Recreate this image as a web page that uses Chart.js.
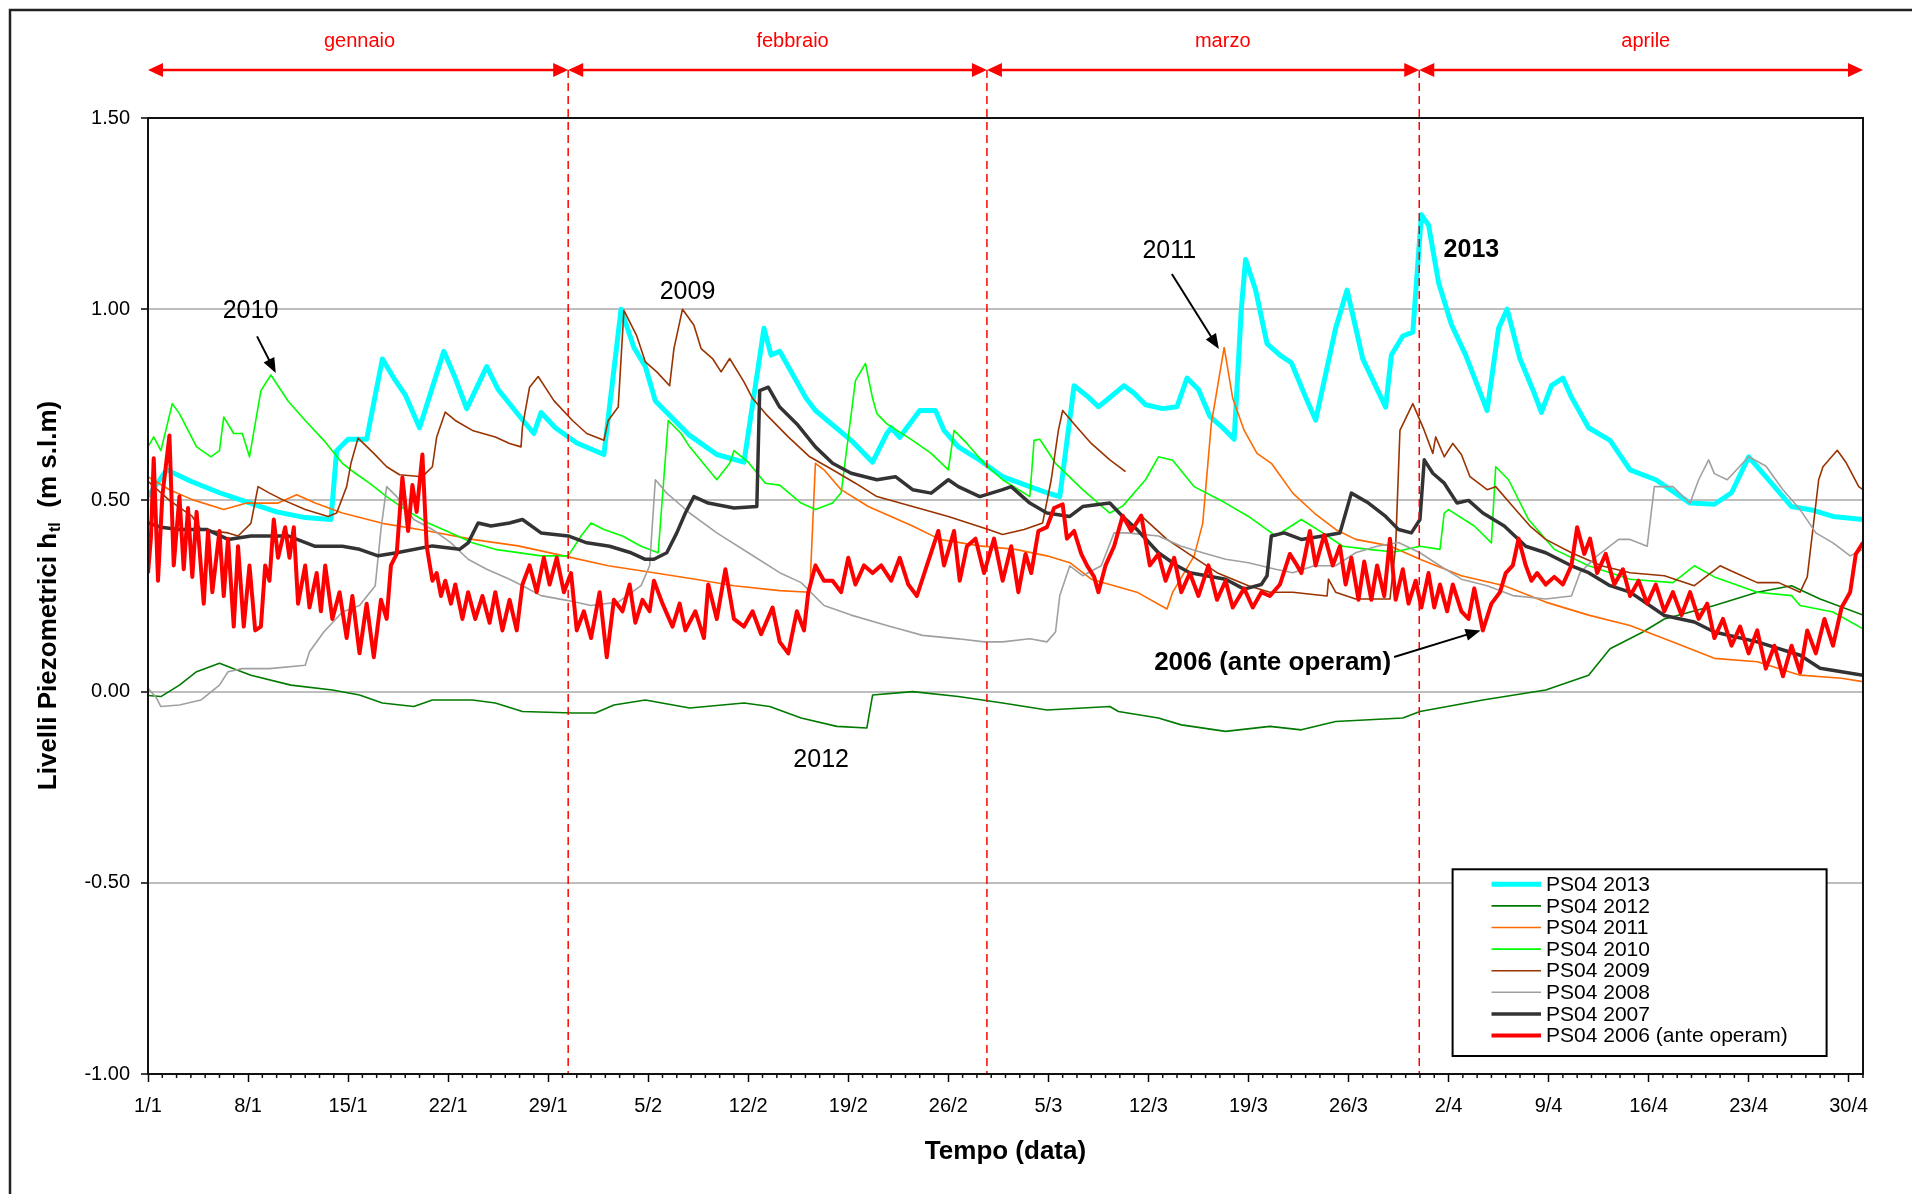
<!DOCTYPE html>
<html>
<head>
<meta charset="utf-8">
<title>PS04 livelli piezometrici</title>
<script src="https://cdn.jsdelivr.net/npm/chart.js@4.4.1/dist/chart.umd.min.js"></script>
<style>
  html, body { margin: 0; padding: 0; background: #fff; }
  canvas { display: block; }
</style>
</head>
<body>
<canvas id="chart" width="1912" height="1194"></canvas>
<script>
// x = days since 1 January, y = level in m s.l.m.

var tickDays = [0, 7, 14, 21, 28, 35, 42, 49, 56, 63, 70, 77, 84, 91, 98, 105, 112, 119];
var tickLabels = ['1/1', '8/1', '15/1', '22/1', '29/1', '5/2', '12/2', '19/2', '26/2',
                  '5/3', '12/3', '19/3', '26/3', '2/4', '9/4', '16/4', '23/4', '30/4'];

var monthNames = ['gennaio', 'febbraio', 'marzo', 'aprile'];
var monthBounds = [0, 29.4, 58.7, 88.95, 120];
var monthLabelDays = [14.8, 45.1, 75.2, 104.8];

var seriesNames = ['PS04 2013', 'PS04 2012', 'PS04 2011', 'PS04 2010',
                   'PS04 2009', 'PS04 2008', 'PS04 2007', 'PS04 2006 (ante operam)'];

// PS04 2013
var days13 = [0,1.3,3,5,7,9,11,12.8,13.2,14,15.3,16.4,17.2,18,19,20.7,21.5,22.3,23.7,24.5,26,27,27.5,28.5,30,31.9,33.1,34,34.8,35.5,36.3,37.9,39.8,41.7,43.1,43.6,44.2,44.8,46,46.7,49.2,50.7,51.7,52,52.6,54,55.1,55.7,56.7,58.2,59.8,61.7,62.9,63.8,64.8,65.8,66.5,67,68.3,69,69.8,71,72,72.7,73.5,74.3,75.2,76,76.5,76.8,77.5,78.3,79.2,80,81,81.7,83.1,83.9,85,86.6,87,87.8,88.5,89.1,89.6,90.3,91.2,92.2,93.7,94.5,95.1,96,97,97.5,98.2,99,99.6,100.8,102.3,103.7,105.5,107.9,109.6,110.8,112,113.2,115,116.4,117.9,120];
var vals13 = [0.51,0.58,0.55,0.52,0.495,0.47,0.455,0.45,0.63,0.66,0.66,0.87,0.82,0.776,0.69,0.89,0.82,0.74,0.85,0.79,0.72,0.675,0.73,0.69,0.65,0.62,1.0,0.9,0.85,0.76,0.73,0.67,0.62,0.6,0.95,0.88,0.89,0.85,0.77,0.735,0.657,0.6,0.675,0.69,0.665,0.735,0.735,0.683,0.64,0.605,0.562,0.536,0.52,0.51,0.8,0.77,0.745,0.76,0.8,0.78,0.75,0.74,0.745,0.82,0.79,0.72,0.69,0.66,1.0,1.13,1.05,0.91,0.88,0.86,0.77,0.71,0.95,1.05,0.87,0.744,0.88,0.93,0.94,1.247,1.22,1.07,0.96,0.88,0.735,0.95,1.0,0.87,0.78,0.73,0.8,0.82,0.77,0.69,0.657,0.58,0.554,0.493,0.49,0.52,0.614,0.562,0.484,0.475,0.458,0.45];

// PS04 2012
var days12 = [0,0.9,2.2,3.4,5,6,7.2,10,12.9,14.8,16.4,18.6,19.9,22.7,24.3,26.2,29.7,31.3,32.6,34.8,37.9,41.7,43.5,45.7,48.2,50.3,50.7,53.5,56.7,59.8,62.9,67.3,67.9,70.7,72.3,75.4,78.5,80.7,83.1,87.8,89,93.4,97.8,100.8,102.3,104.6,106.1,109.6,112.6,115,117,120];
var vals12 = [-0.01,-0.013,0.017,0.052,0.074,0.06,0.043,0.017,0.004,-0.009,-0.03,-0.039,-0.022,-0.022,-0.03,-0.052,-0.056,-0.056,-0.035,-0.022,-0.043,-0.03,-0.039,-0.069,-0.091,-0.095,-0.009,0,-0.013,-0.03,-0.048,-0.039,-0.052,-0.069,-0.087,-0.104,-0.091,-0.1,-0.078,-0.069,-0.052,-0.022,0.004,0.043,0.112,0.156,0.19,0.225,0.26,0.277,0.242,0.2];

// PS04 2011
var days11 = [0,1.5,3.1,5.3,6.9,9.1,10.4,11.7,13.6,16.4,19.6,22.7,25.9,29.1,32.2,35.4,38.3,41,44.2,46.3,46.7,47.3,48.5,50.4,53.5,55.4,58.2,60.7,62.9,64.5,66,69.2,71.3,71.7,73.2,73.8,74.4,75.3,75.9,76.7,77.6,78.6,80.1,81.6,83.1,84.5,86.9,89,91.9,94.9,97.8,100.8,103.7,106.7,109.6,112.6,115.6,118.5,120];
var vals11 = [0.562,0.528,0.502,0.476,0.493,0.493,0.515,0.493,0.467,0.44,0.42,0.398,0.381,0.355,0.329,0.311,0.294,0.277,0.264,0.26,0.597,0.58,0.528,0.484,0.433,0.398,0.381,0.372,0.355,0.337,0.294,0.26,0.216,0.26,0.355,0.44,0.7,0.9,0.767,0.683,0.623,0.597,0.519,0.467,0.424,0.398,0.381,0.346,0.303,0.277,0.234,0.2,0.173,0.13,0.087,0.078,0.043,0.035,0.026];

// PS04 2010
var days10 = [0,0.4,0.9,1.7,2.2,3.4,4.4,5.0,5.3,6,6.6,7.1,7.9,8.6,9.8,11,12.3,13.6,14.5,15.5,16.7,18,19.6,21.2,22.7,24.3,27.5,29.4,30.3,31,31.9,33.2,34.5,35.7,36.4,37.3,37.9,39.8,40.7,41,42,43.2,44.2,45.7,46.7,47.9,48.5,49.5,50.2,50.7,51,51.7,53.5,54.8,56,56.4,57.3,58.5,59.8,61.7,62,62.4,63.5,65.4,67.3,68.2,69.8,70.7,71.7,73.2,75.4,77,78.9,80.7,82.2,83.6,85.4,87.2,89,90.4,90.7,91,92.8,94,94.3,95.2,96.6,98.4,100.8,103.7,106.7,108.2,109.6,112.6,115,115.6,117.9,120];
var vals10 = [0.64,0.666,0.63,0.753,0.727,0.64,0.614,0.63,0.718,0.675,0.675,0.614,0.787,0.828,0.76,0.709,0.657,0.597,0.571,0.545,0.51,0.476,0.441,0.415,0.389,0.372,0.355,0.355,0.407,0.441,0.424,0.407,0.38,0.363,0.709,0.675,0.64,0.554,0.597,0.63,0.6,0.545,0.54,0.493,0.476,0.493,0.52,0.813,0.858,0.767,0.727,0.7,0.657,0.623,0.58,0.683,0.649,0.597,0.554,0.51,0.657,0.66,0.597,0.528,0.467,0.485,0.554,0.614,0.605,0.536,0.493,0.458,0.407,0.45,0.415,0.38,0.372,0.365,0.38,0.372,0.467,0.476,0.433,0.389,0.588,0.554,0.45,0.372,0.329,0.294,0.285,0.329,0.3,0.26,0.251,0.225,0.208,0.164];

// PS04 2009 (null = missing readings)
var days09 = [0,1.5,3.1,3.7,5.6,6.3,7.2,7.7,8.5,9.4,11,12.6,13.2,13.9,14.2,14.7,15.8,16.7,17.6,19.2,19.9,20.2,20.8,21.5,22.7,24.3,25.3,26.1,26.2,26.7,27.3,28.4,29.7,30.7,31.9,32.2,32.9,33.3,34.2,34.8,35.6,36.5,36.8,37.4,38.2,38.7,39.5,40.1,40.7,41.7,42.3,43.2,44.8,46.3,47.9,49.5,51,53.5,56,58.8,59.8,61.3,62.6,63.2,63.7,64,64.8,66,67.3,68.4,68.9,69.4,71.3,74.8,77,78.5,80.1,82.5,82.6,83.1,84.5,86.9,87.3,87.6,88.5,89.3,89.9,90.1,90.7,91.3,91.9,92.5,93.7,94.3,95.5,96.7,97.8,99.6,101.7,103.7,106.1,108.2,110,111.1,112.6,114.1,115.6,116.1,116.9,117.2,118.2,118.8,119.7,120];
var vals09 = [0.55,0.5,0.458,0.424,0.415,0.407,0.44,0.536,0.519,0.502,0.476,0.458,0.467,0.536,0.597,0.663,0.623,0.588,0.567,0.562,0.588,0.666,0.731,0.709,0.683,0.666,0.649,0.64,0.692,0.796,0.824,0.761,0.709,0.675,0.657,0.709,0.744,0.997,0.93,0.862,0.836,0.8,0.897,1.0,0.958,0.897,0.871,0.836,0.871,0.81,0.767,0.727,0.666,0.614,0.58,0.545,0.51,0.484,0.458,0.424,0.411,0.424,0.441,0.554,0.683,0.735,0.7,0.649,0.606,0.575,null,0.463,0.398,0.311,0.277,0.26,0.26,0.25,0.294,0.26,0.242,0.242,0.38,0.683,0.753,0.683,0.623,0.666,0.614,0.649,0.62,0.562,0.528,0.536,0.484,0.433,0.398,0.363,0.329,0.311,0.303,0.277,0.329,0.31,0.285,0.285,0.26,0.3,0.554,0.588,0.631,0.6,0.536,0.528];

// PS04 2008
var days08 = [0,0.6,0.9,2.2,3.7,5,5.6,6.6,8.5,11,11.3,12.3,13.6,14.8,15.9,16.3,16.7,17.4,18.6,19.9,21.2,22.4,23.7,25.3,26.2,27.5,29.4,31,32.9,34.5,35.1,35.5,36.3,37.9,39.8,42,44.2,45.7,47.3,49.2,51.7,54.2,56.7,58.5,59.8,61.7,62.9,63.5,63.8,64.5,65.4,66.7,67.6,68.5,70.7,72.3,73.8,75.4,77,78.9,80.1,81.6,83.1,84.5,86,87.5,89,90.4,91.9,93.7,95.5,97.8,99.6,100.2,101.4,102.9,103.7,104.9,105.4,106.7,107.9,108.5,109.2,109.6,110.5,112,113.2,114.4,115.6,116.7,117.9,119.1,120];
var vals08 = [0.009,-0.017,-0.039,-0.035,-0.022,0.017,0.052,0.06,0.06,0.069,0.104,0.156,0.208,0.225,0.277,0.424,0.536,0.51,0.45,0.424,0.389,0.346,0.32,0.294,0.277,0.251,0.238,0.225,0.234,0.277,0.329,0.554,0.519,0.467,0.415,0.363,0.311,0.285,0.225,0.2,0.173,0.147,0.138,0.13,0.13,0.138,0.13,0.156,0.251,0.329,0.303,0.329,0.415,0.415,0.407,0.38,0.363,0.346,0.337,0.32,0.311,0.329,0.329,0.363,0.38,0.39,0.363,0.329,0.294,0.277,0.251,0.242,0.25,0.311,0.355,0.398,0.398,0.38,0.536,0.536,0.493,0.554,0.606,0.57,0.554,0.614,0.59,0.528,0.476,0.415,0.389,0.355,0.372];

// PS04 2007
var days07 = [0,0.9,2.2,4.1,5.6,7.2,9.8,11.7,13.6,14.8,16.1,17.4,19.9,21.8,22.4,23.1,24,25.3,26.2,27.5,29.4,30.7,32.3,33.8,34.8,35.4,36.3,37,37.6,38.2,39.2,41,42.6,42.8,43.4,44.2,45.4,46.7,47.9,49.2,51,52.3,53.5,54.8,56,56.7,58.2,59.8,60.4,61.7,62.9,64.5,65.4,67.3,68.2,69.2,70.7,72,72.9,75.4,76.7,77.9,78.3,78.6,79.5,80.7,82.2,83.4,84.2,85.4,86.6,87.5,88.4,89,89.3,89.9,90.7,91.6,92.4,93.4,94.9,96.4,97.8,99.6,100.8,102.3,103.7,106.1,108.2,109.6,112.6,115.6,117,118.5,120];
var vals07 = [0.441,0.43,0.424,0.424,0.398,0.407,0.407,0.38,0.38,0.372,0.355,0.363,0.381,0.372,0.389,0.441,0.433,0.441,0.45,0.415,0.407,0.389,0.38,0.363,0.346,0.346,0.363,0.415,0.467,0.51,0.493,0.48,0.484,0.787,0.796,0.744,0.7,0.64,0.597,0.571,0.554,0.562,0.528,0.519,0.554,0.536,0.51,0.528,0.536,0.493,0.467,0.458,0.484,0.493,0.458,0.424,0.363,0.329,0.311,0.294,0.268,0.28,0.303,0.407,0.415,0.398,0.407,0.415,0.519,0.493,0.458,0.424,0.415,0.45,0.606,0.571,0.545,0.493,0.5,0.467,0.433,0.38,0.363,0.329,0.311,0.277,0.26,0.199,0.182,0.156,0.13,0.095,0.061,0.052,0.043];

// PS04 2006 (ante operam) - tidal, read peak by trough
var days06 = [0,0.2,0.4,0.7,1.0,1.5,1.8,2.2,2.5,2.8,
  3.1,3.4,3.9,4.2,4.5,5.0,5.3,5.6,6.0,6.3,
  6.7,7.1,7.5,7.9,8.2,8.5,8.8,9.1,9.6,9.9,
  10.2,10.5,11.0,11.3,11.8,12.1,12.4,12.9,13.4,13.9,
  14.3,14.8,15.3,15.8,16.3,16.7,17.0,17.4,17.8,18.2,
  18.5,18.8,19.2,19.5,19.9,20.2,20.5,20.8,21.2,21.5,
  22.0,22.4,22.9,23.4,23.9,24.3,24.8,25.3,25.8,26.2,
  26.7,27.2,27.7,28.1,28.6,29.1,29.6,30.0,30.5,31.0,
  31.6,32.1,32.6,33.2,33.7,34.1,34.6,35.1,35.4,36.0,
  36.7,37.2,37.6,38.3,38.9,39.2,39.8,40.4,41.0,41.7,
  42.3,42.9,43.7,44.2,44.8,45.4,45.9,46.2,46.7,47.3,
  47.9,48.5,49.0,49.5,50.1,50.7,51.3,52.0,52.6,53.2,
  53.8,54.5,55.3,55.7,56.4,56.8,57.3,57.9,58.5,59.2,
  59.8,60.4,60.9,61.4,61.8,62.3,62.9,63.4,64.0,64.3,
  64.8,65.3,65.7,66.2,66.5,67.0,67.6,68.2,68.8,69.5,
  70.1,70.7,71.2,71.8,72.3,72.9,73.5,74.2,74.8,75.4,
  75.9,76.7,77.3,77.9,78.5,79.2,79.9,80.4,80.7,81.3,
  81.7,82.3,82.9,83.4,83.8,84.2,84.7,85.1,85.6,86.0,
  86.5,86.9,87.3,87.8,88.2,88.7,89.1,89.6,90.0,90.4,
  90.9,91.3,91.9,92.4,92.8,93.4,94.0,94.6,95.0,95.5,
  95.9,96.4,96.8,97.2,97.8,98.4,99.0,99.6,100.0,100.5,
  100.9,101.4,102.0,102.6,103.2,103.7,104.3,104.9,105.5,106.1,
  106.7,107.3,107.9,108.5,109.1,109.6,110.2,110.8,111.4,112.0,
  112.6,113.2,113.8,114.4,115.0,115.6,116.1,116.7,117.3,117.9,
  118.5,119.1,119.5,120];
var vals06 = [0.31,0.40,0.61,0.29,0.51,0.67,0.33,0.51,0.32,0.48,
  0.30,0.47,0.23,0.42,0.26,0.42,0.25,0.40,0.17,0.38,
  0.17,0.33,0.16,0.17,0.33,0.29,0.45,0.35,0.43,0.35,
  0.43,0.23,0.33,0.22,0.31,0.21,0.33,0.19,0.26,0.14,
  0.25,0.10,0.23,0.09,0.24,0.19,0.33,0.36,0.56,0.42,
  0.54,0.47,0.62,0.38,0.29,0.31,0.25,0.29,0.23,0.28,
  0.19,0.26,0.19,0.25,0.18,0.26,0.16,0.24,0.16,0.28,
  0.33,0.26,0.35,0.28,0.35,0.26,0.31,0.16,0.21,0.14,
  0.26,0.09,0.24,0.21,0.28,0.18,0.24,0.21,0.29,0.23,
  0.17,0.23,0.16,0.21,0.14,0.28,0.19,0.32,0.19,0.17,
  0.21,0.15,0.22,0.13,0.10,0.21,0.16,0.26,0.33,0.29,
  0.29,0.26,0.35,0.28,0.33,0.31,0.33,0.29,0.35,0.28,
  0.25,0.33,0.42,0.33,0.42,0.29,0.38,0.40,0.31,0.40,
  0.29,0.38,0.26,0.36,0.31,0.42,0.43,0.48,0.49,0.40,
  0.42,0.36,0.33,0.30,0.26,0.33,0.38,0.46,0.42,0.46,
  0.33,0.36,0.29,0.35,0.26,0.31,0.25,0.33,0.24,0.29,
  0.22,0.27,0.22,0.26,0.25,0.28,0.36,0.33,0.31,0.42,
  0.33,0.41,0.33,0.38,0.28,0.35,0.24,0.34,0.24,0.33,
  0.25,0.40,0.24,0.32,0.23,0.29,0.22,0.31,0.22,0.28,
  0.21,0.28,0.21,0.19,0.27,0.16,0.23,0.26,0.31,0.33,
  0.40,0.33,0.29,0.31,0.28,0.30,0.28,0.33,0.43,0.36,
  0.40,0.31,0.36,0.28,0.32,0.25,0.29,0.23,0.28,0.21,
  0.26,0.20,0.26,0.19,0.23,0.14,0.19,0.12,0.17,0.10,
  0.16,0.06,0.12,0.04,0.12,0.05,0.16,0.10,0.19,0.12,
  0.22,0.26,0.36,0.39];

var FONT = '"Liberation Sans", Arial, Helvetica, sans-serif';
var seriesColors = ['#00FFFF', '#007A00', '#FF6A00', '#00FF00', '#993300', '#A0A0A0', '#333333', '#FF0000'];
var seriesWidths = [5, 1.6, 1.6, 1.6, 1.6, 1.6, 3.5, 4];

var allDays = [days13, days12, days11, days10, days09, days08, days07, days06];
var allVals = [vals13, vals12, vals11, vals10, vals09, vals08, vals07, vals06];

function toPoints(days, vals) {
    return days.map(function(d, i) { return { x: d, y: vals[i] }; });
}

var datasets = seriesNames.map(function(name, i) {
    return {
        label: name,
        data: toPoints(allDays[i], allVals[i]),
        borderColor: seriesColors[i],
        backgroundColor: seriesColors[i],
        borderWidth: seriesWidths[i],
        pointRadius: 0,
        tension: 0,
        spanGaps: false,
        borderJoinStyle: 'round',
        order: seriesNames.length - 1 - i   // later years drawn on top, like the original
    };
});

// text notes placed on the plot (day, value)
var notes = [
    { text: '2010', day: 7.17, val: 0.994, bold: false, arrow: [7.63, 0.929, 8.94, 0.833] },
    { text: '2009', day: 37.75, val: 1.044, bold: false },
    { text: '2011', day: 71.46, val: 1.153, bold: false, arrow: [71.64, 1.092, 74.93, 0.896] },
    { text: '2013', day: 92.6, val: 1.155, bold: true },
    { text: '2012', day: 47.1, val: -0.179, bold: false },
    { text: '2006 (ante operam)', day: 70.4, val: 0.0755, bold: true, left: true, arrow: [87.19, 0.0906, 93.24, 0.160] }
];

function arrowHead(c, x, y, ang, len, half) {
    var bx = x - len * Math.cos(ang), by = y - len * Math.sin(ang);
    c.beginPath();
    c.moveTo(x, y);
    c.lineTo(bx + half * Math.sin(ang), by - half * Math.cos(ang));
    c.lineTo(bx - half * Math.sin(ang), by + half * Math.cos(ang));
    c.closePath();
    c.fill();
}

var decor = {
    id: 'decor',
    beforeDraw: function(chart) {
        var c = chart.ctx;
        c.save();
        c.fillStyle = '#fff';
        c.fillRect(0, 0, chart.width, chart.height);
        // outer frame of the figure
        c.strokeStyle = '#222';
        c.lineWidth = 2.5;
        c.beginPath();
        c.moveTo(10, chart.height + 5);
        c.lineTo(10, 10);
        c.lineTo(chart.width + 5, 10);
        c.stroke();
        c.restore();
    },
    afterDatasetsDraw: function(chart) {
        var c = chart.ctx, a = chart.chartArea;
        var xs = chart.scales.x, ys = chart.scales.y;
        c.save();

        // month dividers
        var rowY = 70;
        c.strokeStyle = '#FF0000';
        c.lineWidth = 1.5;
        c.setLineDash([8, 5]);
        for (var m = 1; m < monthBounds.length - 1; m++) {
            var px = xs.getPixelForValue(monthBounds[m]);
            c.beginPath();
            c.moveTo(px, rowY);
            c.lineTo(px, a.bottom);
            c.stroke();
        }
        c.setLineDash([]);

        // month arrows and names
        c.lineWidth = 2.5;
        c.fillStyle = '#FF0000';
        for (var k = 0; k < monthNames.length; k++) {
            var x1 = xs.getPixelForValue(monthBounds[k]);
            var x2 = xs.getPixelForValue(monthBounds[k + 1]);
            c.beginPath();
            c.moveTo(x1 + 8, rowY);
            c.lineTo(x2 - 8, rowY);
            c.stroke();
            arrowHead(c, x1, rowY, Math.PI, 15, 7);
            arrowHead(c, x2, rowY, 0, 15, 7);
            c.font = '20px ' + FONT;
            c.textAlign = 'center';
            c.textBaseline = 'middle';
            c.fillText(monthNames[k], xs.getPixelForValue(monthLabelDays[k]), 41);
        }

        // notes on the plot
        c.fillStyle = '#000';
        c.strokeStyle = '#000';
        notes.forEach(function(n) {
            c.font = (n.bold ? 'bold ' : '') + (n.left ? '26px ' : '25px ') + FONT;
            c.textAlign = n.left ? 'left' : 'center';
            c.textBaseline = 'middle';
            c.fillText(n.text, xs.getPixelForValue(n.day), ys.getPixelForValue(n.val));
            if (n.arrow) {
                var ax1 = xs.getPixelForValue(n.arrow[0]), ay1 = ys.getPixelForValue(n.arrow[1]);
                var ax2 = xs.getPixelForValue(n.arrow[2]), ay2 = ys.getPixelForValue(n.arrow[3]);
                var ang = Math.atan2(ay2 - ay1, ax2 - ax1);
                c.lineWidth = 2;
                c.beginPath();
                c.moveTo(ax1, ay1);
                c.lineTo(ax2 - 10 * Math.cos(ang), ay2 - 10 * Math.sin(ang));
                c.stroke();
                arrowHead(c, ax2, ay2, ang, 15, 6);
            }
        });

        c.restore();
    },
    afterDraw: function(chart) {
        var c = chart.ctx, a = chart.chartArea, xs = chart.scales.x;
        c.save();

        // plot frame
        c.strokeStyle = '#111';
        c.lineWidth = 2;
        c.strokeRect(a.left, a.top, a.right - a.left, a.bottom - a.top);

        // daily minor ticks
        c.lineWidth = 1.5;
        c.beginPath();
        for (var d = 0; d <= 120; d++) {
            if (tickDays.indexOf(d) >= 0) continue;
            var px = xs.getPixelForValue(d);
            c.moveTo(px, a.bottom);
            c.lineTo(px, a.bottom + 4);
        }
        c.stroke();

        // y axis title with subscript
        c.translate(49, (a.top + a.bottom) / 2);
        c.rotate(-Math.PI / 2);
        c.fillStyle = '#000';
        c.textAlign = 'left';
        c.textBaseline = 'middle';
        var big = 'bold 26px ' + FONT, small = 'bold 16px ' + FONT;
        var p1 = 'Livelli Piezometrici h', p2 = 'tl', p3 = '  (m s.l.m)';
        c.font = big;
        var w1 = c.measureText(p1).width, w3 = c.measureText(p3).width;
        c.font = small;
        var w2 = c.measureText(p2).width;
        var x0 = -(w1 + w2 + w3) / 2;
        c.font = big;
        c.fillText(p1, x0, 0);
        c.font = small;
        c.fillText(p2, x0 + w1 + 1, 7);
        c.font = big;
        c.fillText(p3, x0 + w1 + w2 + 1, 0);
        c.setTransform(1, 0, 0, 1, 0, 0);

        // legend box
        var lx = 1452.6, ly = 869.3, lw = 374, lh = 186.7;
        c.fillStyle = '#fff';
        c.fillRect(lx, ly, lw, lh);
        c.strokeStyle = '#000';
        c.lineWidth = 2;
        c.strokeRect(lx, ly, lw, lh);
        c.font = '21px ' + FONT;
        c.textAlign = 'left';
        c.textBaseline = 'middle';
        seriesNames.forEach(function(name, i) {
            var yy = 884.3 + i * 21.6;
            c.strokeStyle = seriesColors[i];
            c.lineWidth = seriesWidths[i];
            c.beginPath();
            c.moveTo(1491.5, yy);
            c.lineTo(1541, yy);
            c.stroke();
            c.fillStyle = '#000';
            c.fillText(name, 1546, yy + 1);
        });

        c.restore();
    }
};

Chart.defaults.font.family = FONT;
Chart.defaults.color = '#000';

var ctx = document.getElementById('chart').getContext('2d');
new Chart(ctx, {
    type: 'line',
    data: { datasets: datasets },
    options: {
        responsive: false,
        animation: false,
        parsing: true,
        layout: { padding: { top: 118, right: 49, left: 0, bottom: 0 } },
        plugins: {
            legend: { display: false },
            tooltip: { enabled: false }
        },
        scales: {
            x: {
                type: 'linear',
                min: 0,
                max: 120,
                afterBuildTicks: function(scale) {
                    scale.ticks = tickDays.map(function(v) { return { value: v }; });
                },
                afterFit: function(scale) { scale.height = 120; },
                ticks: {
                    autoSkip: false,
                    maxRotation: 0,
                    padding: 12,
                    font: { size: 20 },
                    color: '#000',
                    callback: function(v) {
                        var i = tickDays.indexOf(v);
                        return i >= 0 ? tickLabels[i] : '';
                    }
                },
                grid: { drawOnChartArea: false, tickLength: 8, tickColor: '#000', tickWidth: 1.5 },
                border: { display: false },
                title: {
                    display: true,
                    text: 'Tempo (data)',
                    font: { size: 26, weight: 'bold' },
                    color: '#000',
                    padding: { top: 0, bottom: 27 }
                }
            },
            y: {
                min: -1,
                max: 1.5,
                afterFit: function(scale) { scale.width = 148; },
                ticks: {
                    stepSize: 0.5,
                    padding: 11,
                    font: { size: 20 },
                    color: '#000',
                    callback: function(v) { return Number(v).toFixed(2); }
                },
                grid: {
                    color: function(c) {
                        var v = c.tick ? c.tick.value : 0;
                        return (v === -1 || v === 1.5) ? 'rgba(0,0,0,0)' : '#BEBEBE';
                    },
                    lineWidth: 2,
                    tickLength: 7,
                    tickColor: '#000',
                    tickWidth: 1.5
                },
                border: { display: false }
            }
        }
    },
    plugins: [decor]
});
</script>
</body>
</html>
